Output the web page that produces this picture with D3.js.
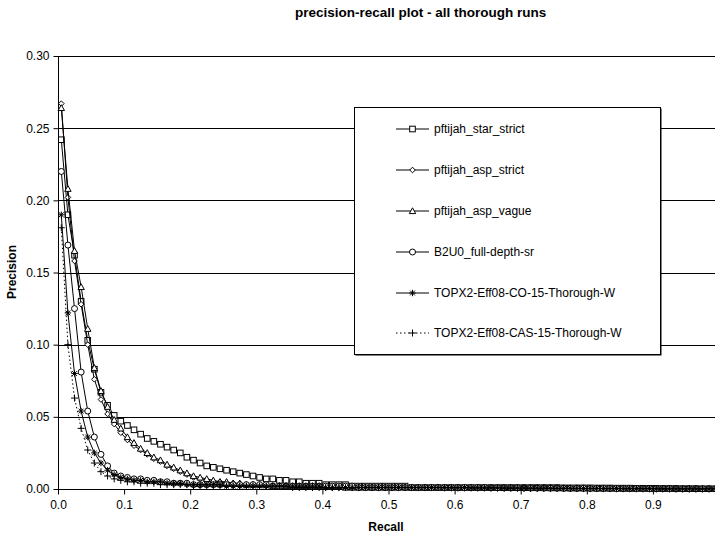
<!DOCTYPE html>
<html>
<head>
<meta charset="utf-8">
<script src="https://cdn.jsdelivr.net/npm/d3@7"></script>
<style>
  body { margin: 0; background: #fff; }
  svg { display: block; font-family: "Liberation Sans", Arial, sans-serif; }
  .grid line { stroke: #000; stroke-width: 1; }
  .axis path, .axis line { stroke: #000; }
  .axis text { font-size: 12px; fill: #000; }
</style>
</head>
<body>
<svg id="chart"></svg>
<script>
// recall levels 0.00 .. 0.99
const recallLevels = d3.range(0, 100).map(i => i / 100);

const seriesNames = [
    'pftijah_star_strict',
    'pftijah_asp_strict',
    'pftijah_asp_vague',
    'B2U0_full-depth-sr',
    'TOPX2-Eff08-CO-15-Thorough-W',
    'TOPX2-Eff08-CAS-15-Thorough-W'
];

const starStrict = [
    0.242, 0.190, 0.162, 0.130, 0.103, 0.083, 0.067, 0.058, 0.051, 0.047,
    0.044, 0.041, 0.038, 0.035, 0.033, 0.031, 0.029, 0.027, 0.025, 0.022,
    0.020, 0.018, 0.016, 0.015, 0.014, 0.013, 0.012, 0.011, 0.010, 0.009,
    0.008, 0.007, 0.007, 0.006, 0.006, 0.005, 0.005, 0.004, 0.004, 0.004,
    0.003, 0.003, 0.003, 0.003, 0.002, 0.002, 0.002, 0.002, 0.002, 0.002,
    0.002, 0.002, 0.002, 0.001, 0.001, 0.001, 0.001, 0.001, 0.001, 0.001,
    0.001, 0.001, 0.001, 0.001, 0.001, 0.001, 0.001, 0.001, 0.001, 0.001,
    0.001, 0.001, 0.001, 0.001, 0.001, 0.001, 0.0008, 0.0008, 0.0008, 0.0008,
    0.0008, 0.0007, 0.0007, 0.0007, 0.0006, 0.0006, 0.0006, 0.0005, 0.0005, 0.0005,
    0.0005, 0.0004, 0.0004, 0.0004, 0.0003, 0.0003, 0.0003, 0.0002, 0.0002, 0.0002
];

const aspStrict = [
    0.267, 0.202, 0.158, 0.128, 0.100, 0.076, 0.062, 0.052, 0.045, 0.039,
    0.034, 0.030, 0.027, 0.024, 0.021, 0.019, 0.016, 0.014, 0.012, 0.010,
    0.008, 0.007, 0.006, 0.005, 0.005, 0.004, 0.004, 0.003, 0.003, 0.003,
    0.003, 0.002, 0.002, 0.002, 0.002, 0.002, 0.002, 0.002, 0.002, 0.002,
    0.002, 0.001, 0.001, 0.001, 0.001, 0.001, 0.001, 0.001, 0.001, 0.001,
    0.001, 0.001, 0.001, 0.001, 0.001, 0.001, 0.001, 0.001, 0.001, 0.001,
    0.001, 0.001, 0.001, 0.001, 0.001, 0.001, 0.0008, 0.0008, 0.0008, 0.0008,
    0.0008, 0.0007, 0.0007, 0.0007, 0.0006, 0.0006, 0.0006, 0.0005, 0.0005, 0.0005,
    0.0005, 0.0004, 0.0004, 0.0004, 0.0004, 0.0003, 0.0003, 0.0003, 0.0003, 0.0002,
    0.0002, 0.0002, 0.0002, 0.0002, 0.0001, 0.0001, 0.0001, 0.0001, 0.0001, 0.0001
];

const aspVague = [
    0.264, 0.208, 0.165, 0.140, 0.111, 0.084, 0.068, 0.057, 0.048, 0.042,
    0.036, 0.032, 0.028, 0.025, 0.022, 0.020, 0.017, 0.015, 0.013, 0.011,
    0.009, 0.008, 0.007, 0.006, 0.005, 0.005, 0.004, 0.004, 0.003, 0.003,
    0.003, 0.003, 0.002, 0.002, 0.002, 0.002, 0.002, 0.002, 0.002, 0.002,
    0.002, 0.002, 0.002, 0.001, 0.001, 0.001, 0.001, 0.001, 0.001, 0.001,
    0.001, 0.001, 0.001, 0.001, 0.001, 0.001, 0.001, 0.001, 0.001, 0.001,
    0.001, 0.001, 0.001, 0.001, 0.001, 0.001, 0.001, 0.0008, 0.0008, 0.0008,
    0.0008, 0.0007, 0.0007, 0.0007, 0.0006, 0.0006, 0.0006, 0.0005, 0.0005, 0.0005,
    0.0005, 0.0004, 0.0004, 0.0004, 0.0004, 0.0003, 0.0003, 0.0003, 0.0003, 0.0002,
    0.0002, 0.0002, 0.0002, 0.0002, 0.0001, 0.0001, 0.0001, 0.0001, 0.0001, 0.0001
];

const b2u0 = [
    0.220, 0.169, 0.125, 0.081, 0.054, 0.036, 0.024, 0.016, 0.011, 0.009,
    0.008, 0.007, 0.007, 0.006, 0.006, 0.005, 0.005, 0.004, 0.004, 0.004,
    0.003, 0.003, 0.003, 0.003, 0.003, 0.003, 0.003, 0.003, 0.003, 0.003,
    0.003, 0.003, 0.002, 0.002, 0.002, 0.002, 0.002, 0.002, 0.002, 0.002,
    0.002, 0.002, 0.002, 0.002, 0.002, 0.001, 0.001, 0.001, 0.001, 0.001,
    0.001, 0.001, 0.001, 0.001, 0.001, 0.001, 0.001, 0.001, 0.001, 0.001,
    0.001, 0.001, 0.001, 0.001, 0.001, 0.0008, 0.0008, 0.0008, 0.0008, 0.0008,
    0.0007, 0.0007, 0.0007, 0.0006, 0.0006, 0.0006, 0.0005, 0.0005, 0.0005, 0.0005,
    0.0004, 0.0004, 0.0004, 0.0004, 0.0003, 0.0003, 0.0003, 0.0003, 0.0002, 0.0002,
    0.0002, 0.0002, 0.0002, 0.0001, 0.0001, 0.0001, 0.0001, 0.0001, 0.0001, 0.0001
];

const topxCO = [
    0.190, 0.122, 0.080, 0.054, 0.036, 0.025, 0.018, 0.013, 0.010, 0.008,
    0.007, 0.006, 0.006, 0.005, 0.005, 0.005, 0.004, 0.004, 0.004, 0.003,
    0.003, 0.003, 0.003, 0.003, 0.003, 0.002, 0.002, 0.002, 0.002, 0.002,
    0.002, 0.002, 0.002, 0.002, 0.002, 0.002, 0.002, 0.002, 0.002, 0.002,
    0.001, 0.001, 0.001, 0.001, 0.001, 0.001, 0.001, 0.001, 0.001, 0.001,
    0.001, 0.001, 0.001, 0.001, 0.001, 0.001, 0.001, 0.001, 0.001, 0.001,
    0.001, 0.001, 0.0008, 0.0008, 0.0008, 0.0008, 0.0008, 0.0007, 0.0007, 0.0007,
    0.0007, 0.0006, 0.0006, 0.0006, 0.0005, 0.0005, 0.0005, 0.0005, 0.0004, 0.0004,
    0.0004, 0.0004, 0.0003, 0.0003, 0.0003, 0.0003, 0.0002, 0.0002, 0.0002, 0.0002,
    0.0002, 0.0001, 0.0001, 0.0001, 0.0001, 0.0001, 0.0001, 0.0001, 0.0001, 0.0001
];

const topxCAS = [
    0.181, 0.100, 0.063, 0.042, 0.027, 0.018, 0.012, 0.009, 0.007, 0.006,
    0.005, 0.005, 0.004, 0.004, 0.004, 0.003, 0.003, 0.003, 0.003, 0.003,
    0.002, 0.002, 0.002, 0.002, 0.002, 0.002, 0.002, 0.002, 0.002, 0.002,
    0.002, 0.002, 0.002, 0.002, 0.002, 0.001, 0.001, 0.001, 0.001, 0.001,
    0.001, 0.001, 0.001, 0.001, 0.001, 0.001, 0.001, 0.001, 0.001, 0.001,
    0.001, 0.001, 0.001, 0.001, 0.001, 0.001, 0.001, 0.001, 0.0008, 0.0008,
    0.0008, 0.0008, 0.0008, 0.0007, 0.0007, 0.0007, 0.0007, 0.0006, 0.0006, 0.0006,
    0.0006, 0.0005, 0.0005, 0.0005, 0.0005, 0.0004, 0.0004, 0.0004, 0.0004, 0.0003,
    0.0003, 0.0003, 0.0003, 0.0003, 0.0002, 0.0002, 0.0002, 0.0002, 0.0002, 0.0002,
    0.0001, 0.0001, 0.0001, 0.0001, 0.0001, 0.0001, 0.0001, 0.0001, 0.0001, 0.0001
];

const seriesValues = [starStrict, aspStrict, aspVague, b2u0, topxCO, topxCAS];
const markerTypes = ['square', 'diamond', 'triangle', 'circle', 'asterisk', 'plus'];
const dashed = [false, false, false, false, false, true];

const yTicks = [0, 0.05, 0.10, 0.15, 0.20, 0.25, 0.30];
const xTicks = [0, 0.1, 0.2, 0.3, 0.4, 0.5, 0.6, 0.7, 0.8, 0.9];

const fullWidth = 715;
const fullHeight = 538;
const margin = {top: 56, right: -4, bottom: 49, left: 58};
const width = fullWidth - margin.left - margin.right;
const height = fullHeight - margin.top - margin.bottom;

const svg = d3.select('#chart')
    .attr('width', fullWidth)
    .attr('height', fullHeight);

const xScale = d3.scaleLinear().domain([0, 1]).range([0, width]);
const yScale = d3.scaleLinear().domain([0, 0.30]).range([height, 0]);
// points sit in the middle of each recall category
const halfStep = 0.005;

const g = svg.append('g')
    .attr('transform', `translate(${margin.left}, ${margin.top})`);

// gridlines
g.append('g').attr('class', 'grid')
    .selectAll('line').data(yTicks.slice(1))
    .enter().append('line')
        .attr('x1', 0).attr('x2', width)
        .attr('y1', d => Math.round(yScale(d)) + 0.5)
        .attr('y2', d => Math.round(yScale(d)) + 0.5);

// legend box (over gridlines)
const legendX = 354 - margin.left;
const legendY = 107 - margin.top;
const legendW = 306;
const legendH = 247;

g.append('rect')
    .attr('x', legendX + 1.5).attr('y', legendY + 1.5)
    .attr('width', legendW).attr('height', legendH)
    .attr('fill', '#000');
g.append('rect')
    .attr('x', legendX + 0.5).attr('y', legendY + 0.5)
    .attr('width', legendW).attr('height', legendH)
    .attr('fill', '#fff').attr('stroke', '#000');

// axes
const yAxis = d3.axisLeft(yScale)
    .tickValues(yTicks)
    .tickFormat(d3.format('.2f'))
    .tickSize(5)
    .tickPadding(4);

g.append('g').attr('class', 'axis axis--y')
    .attr('transform', 'translate(0.5, 0)')
    .call(yAxis)
    .call(s => s.select('.domain').attr('d', `M0,${yScale(0.30)}V${height + 0.5}`));

const xAxis = d3.axisBottom(xScale)
    .tickValues(xTicks)
    .tickFormat(d3.format('.1f'))
    .tickSize(5)
    .tickPadding(6);

g.append('g').attr('class', 'axis axis--x')
    .attr('transform', `translate(0, ${height + 0.5})`)
    .call(xAxis)
    .call(s => s.select('.domain').attr('d', `M0,0H${width}`));

// markers
function drawMarker(sel, type) {
    if (type === 'square') {
        sel.append('rect').attr('x', -2.8).attr('y', -2.8).attr('width', 5.6).attr('height', 5.6)
            .attr('fill', '#fff').attr('stroke', '#000').attr('stroke-width', 1);
    } else if (type === 'diamond') {
        sel.append('path').attr('d', 'M0,-2.8L2.8,0L0,2.8L-2.8,0Z')
            .attr('fill', '#fff').attr('stroke', '#000').attr('stroke-width', 1);
    } else if (type === 'triangle') {
        sel.append('path').attr('d', 'M0,-3.2L3.2,2.6L-3.2,2.6Z')
            .attr('fill', '#fff').attr('stroke', '#000').attr('stroke-width', 1);
    } else if (type === 'circle') {
        sel.append('circle').attr('r', 3)
            .attr('fill', '#fff').attr('stroke', '#000').attr('stroke-width', 1);
    } else if (type === 'asterisk') {
        sel.append('path').attr('d', 'M-3.2,0H3.2M-2.4,-2.4L2.4,2.4M-2.4,2.4L2.4,-2.4M0,-3.2V3.2')
            .attr('stroke', '#000').attr('stroke-width', 1);
    } else if (type === 'plus') {
        sel.append('path').attr('d', 'M-3.5,0H3.5M0,-3.5V3.5')
            .attr('stroke', '#000').attr('stroke-width', 1);
    }
}

const line = d3.line()
    .x((d, i) => xScale(recallLevels[i] + halfStep))
    .y(d => yScale(d));

const series = g.selectAll('.series').data(seriesValues)
    .enter().append('g')
        .attr('class', 'series');

series.append('path')
    .attr('d', d => line(d))
    .attr('fill', 'none')
    .attr('stroke', '#000')
    .attr('stroke-width', 1)
    .attr('stroke-dasharray', (d, i) => dashed[i] ? '1.5,2.5' : null);

series.each(function(values, si) {
    d3.select(this).selectAll('.marker').data(values)
        .enter().append('g')
            .attr('class', 'marker')
            .attr('transform', (d, i) => `translate(${xScale(recallLevels[i] + halfStep)}, ${yScale(d)})`)
            .each(function() { drawMarker(d3.select(this), markerTypes[si]); });
});

// legend entries
const legendRows = [129, 170, 211, 252, 293, 333];
const legend = svg.append('g').attr('class', 'legend');
seriesNames.forEach((name, i) => {
    const row = legend.append('g').attr('transform', `translate(0, ${legendRows[i]})`);
    row.append('line')
        .attr('x1', 396).attr('x2', 429)
        .attr('stroke', '#000')
        .attr('stroke-dasharray', dashed[i] ? '1.5,2.5' : null);
    const m = row.append('g').attr('transform', 'translate(412.5, 0)');
    drawMarker(m, markerTypes[i]);
    row.append('text')
        .attr('x', 434).attr('y', 0).attr('dy', '0.35em')
        .attr('font-size', '12px')
        .text(name);
});

// titles
svg.append('text')
    .attr('x', 295).attr('y', 17)
    .attr('font-size', '13.5px').attr('font-weight', 'bold')
    .text('precision-recall plot - all thorough runs');

svg.append('text')
    .attr('x', 386).attr('y', 531)
    .attr('text-anchor', 'middle')
    .attr('font-size', '12px').attr('font-weight', 'bold')
    .text('Recall');

svg.append('text')
    .attr('transform', 'translate(16, 272) rotate(-90)')
    .attr('text-anchor', 'middle')
    .attr('font-size', '12px').attr('font-weight', 'bold')
    .text('Precision');
</script>
</body>
</html>
